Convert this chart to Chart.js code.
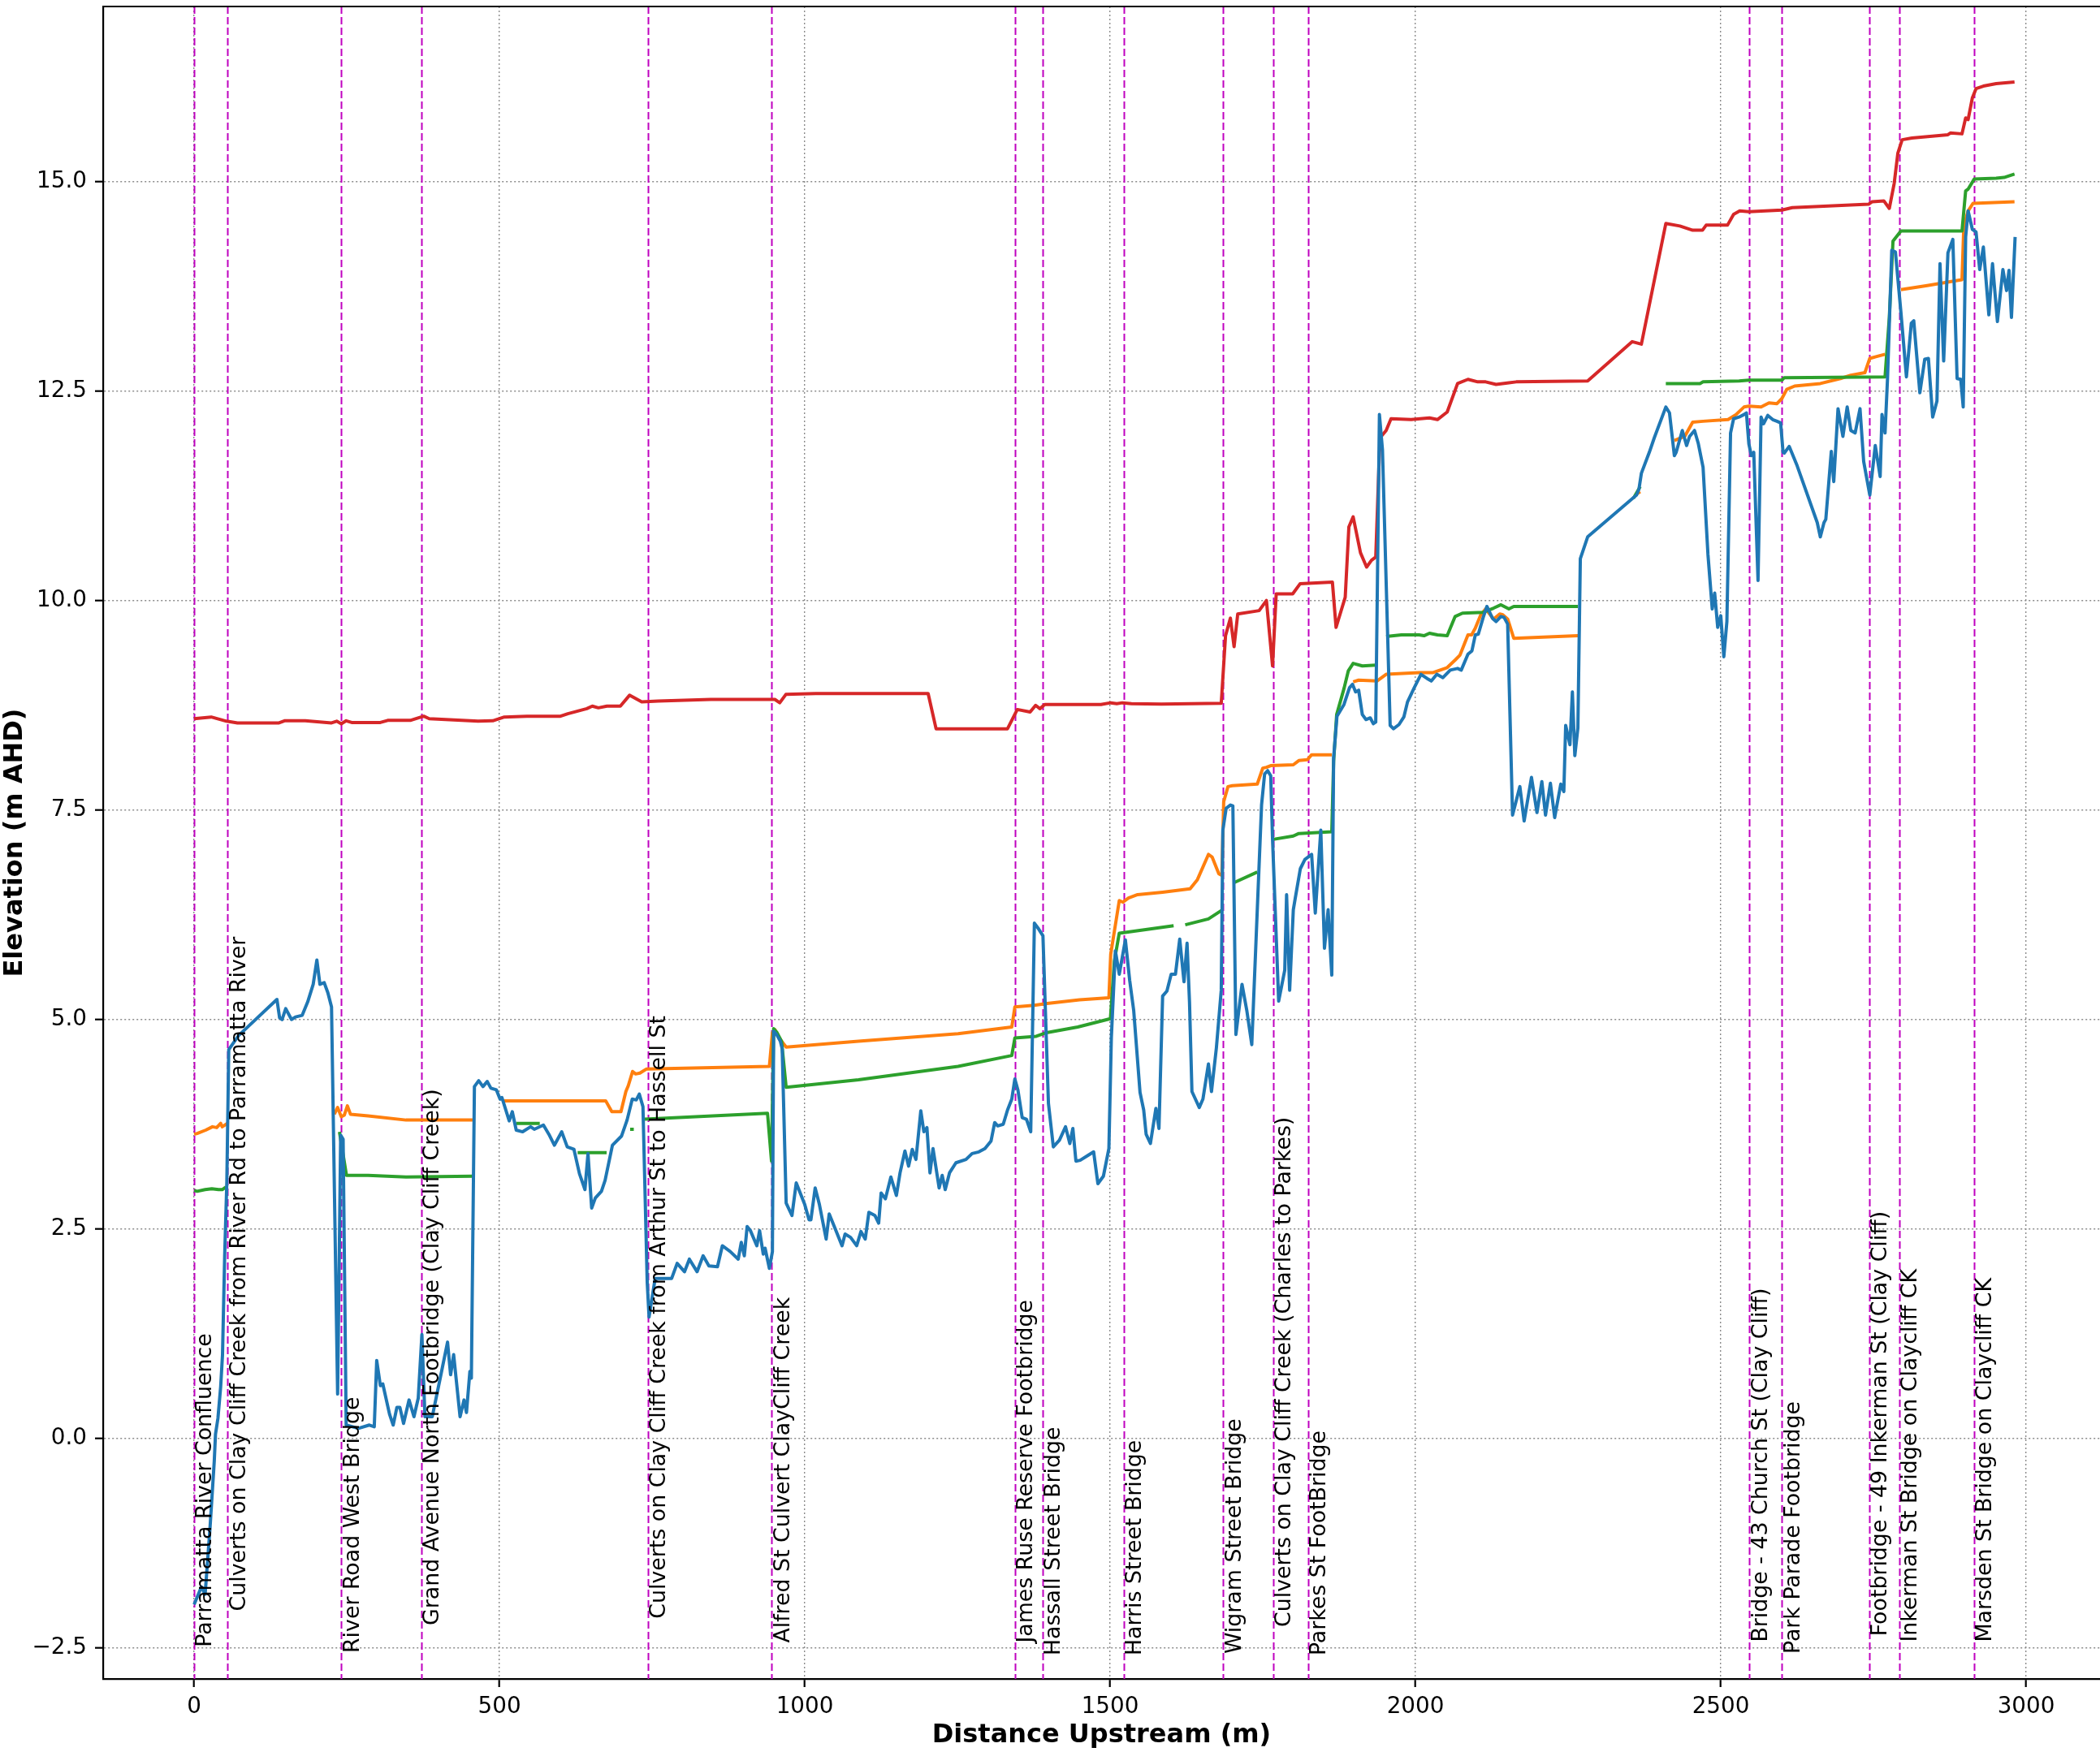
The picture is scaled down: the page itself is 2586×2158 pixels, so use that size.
<!DOCTYPE html>
<html>
<head>
<meta charset="utf-8">
<script src="https://cdn.jsdelivr.net/npm/chart.js@4.4.1/dist/chart.umd.min.js"></script>
<style>
  html, body { margin: 0; padding: 0; background: #ffffff; }
  canvas { display: block; }
</style>
</head>
<body>
<canvas id="profileChart" width="2586" height="2158"></canvas>
<script>
var bedLevel = [
    [0,-1.98],[12,-1.77],[18,-1.86],[26,-1.07],[33,-0.27],[35,0.05],[39,0.24],[43.5,0.62],[46.5,1.0],[50,2.17],[53.6,3.07],[56.7,4.64],[58.5,4.66],[73,4.81],
    [135.6,5.24],[140,5.02],[144,5.0],[150,5.13],[159.5,5.0],[166,5.03],[177,5.05],[186,5.21],[195,5.42],[201,5.71],[206,5.42],[213,5.44],[219,5.32],[225,5.15],
    [235,0.53],[240,3.62],[244,3.57],[249,0.16],[269,0.12],[287,0.16],[295,0.14],[299,0.93],[305,0.63],[309,0.65],[320,0.29],[326,0.16],[332,0.37],[337,0.37],
    [343,0.18],[352,0.46],[360,0.26],[367,0.48],[373,1.24],[378,0.26],[390,0.26],[403,0.72],[415,1.15],[420,0.76],[425,1.0],[435.5,0.26],[442,0.46],[446,0.31],
    [451.6,0.80],[454,0.72],[459,4.20],[466,4.27],[473,4.20],[480,4.26],[486,4.18],[495,4.16],[501,4.05],[504,4.07],[516,3.79],[521,3.90],[527.5,3.68],[538,3.66],
    [551,3.72],[557,3.69],[572,3.74],[581,3.63],[590,3.50],[602,3.66],[611,3.48],[622,3.45],[631,3.16],[640,2.97],[645,3.40],[651,2.75],[657,2.87],[667,2.95],
    [673,3.08],[685,3.50],[700,3.61],[709,3.80],[717.5,4.05],[724,4.04],[729,4.11],[735,3.96],[742,1.86],[745,1.45],[755,1.91],[782,1.91],[791,2.09],[803,1.99],
    [811,2.14],[823.6,1.99],[833.5,2.18],[843,2.06],[857,2.05],[865,2.30],[878,2.23],[891,2.14],[896,2.34],[901,2.18],[905.6,2.53],[911,2.48],[921.5,2.30],[926,2.48],
    [932,2.20],[935,2.27],[942,2.03],[947,2.23],[949,4.86],[954,4.82],[960,4.74],[963,4.65],[969.5,2.81],[979,2.66],[986,3.05],[1000,2.79],[1007,2.61],[1010,2.61],
    [1017,2.99],[1024,2.79],[1035,2.38],[1040,2.68],[1051,2.48],[1061,2.30],[1066,2.44],[1075,2.40],[1085,2.30],[1092,2.47],[1099,2.38],[1105,2.70],[1115,2.66],
    [1121,2.57],[1125,2.93],[1132,2.86],[1141,3.12],[1150,2.90],[1156,3.17],[1164,3.43],[1170,3.25],[1176,3.45],[1182,3.33],[1190,3.91],[1195,3.66],[1200,3.71],
    [1205,3.17],[1210,3.46],[1220,2.99],[1225,3.14],[1230,2.97],[1237,3.17],[1247.5,3.29],[1264,3.33],[1274,3.40],[1285,3.42],[1295,3.46],[1305,3.55],[1311,3.77],
    [1316,3.73],[1325,3.75],[1332,3.92],[1339,4.05],[1344,4.29],[1349,4.16],[1356,3.83],[1363,3.81],[1370,3.66],[1376,6.15],[1383,6.08],[1390,6.0],[1399,4.0],
    [1407,3.48],[1417,3.56],[1427,3.72],[1434,3.52],[1439,3.70],[1444,3.31],[1451,3.32],[1464,3.38],[1473,3.42],[1480,3.04],[1489,3.13],[1498,3.46],[1502,4.78],
    [1508.6,5.82],[1515,5.54],[1525,5.95],[1532,5.47],[1538.6,5.11],[1549,4.13],[1555,3.92],[1559,3.63],[1566,3.52],[1575,3.94],[1580,3.70],[1586,5.28],[1593,5.34],
    [1600,5.54],[1607,5.54],[1614,5.96],[1621,5.45],[1626,5.91],[1630,5.21],[1634,4.14],[1646,3.95],[1652,4.05],[1661,4.47],[1666,4.14],[1674,4.66],[1682,5.35],
    [1684.6,7.26],[1690,7.52],[1697,7.56],[1701,7.55],[1706,4.82],[1716,5.42],[1724,5.1],[1732,4.70],[1741,6.31],[1748,7.56],[1753,7.93],[1758,7.97],[1763,7.91],
    [1766,7.15],[1776,5.22],[1786,5.59],[1789,6.49],[1794,5.35],[1800,6.31],[1803,6.44],[1811.5,6.80],[1819,6.91],[1830,6.97],[1836,6.27],[1845,7.26],[1851,5.85],
    [1857,6.31],[1863,5.53],[1866,8.12],[1871.5,8.62],[1883,8.76],[1892,8.96],[1897,9.0],[1902,8.91],[1907,8.93],[1913,8.64],[1919,8.58],[1926,8.60],[1931,8.53],
    [1935,8.55],[1941,12.22],[1946,11.8],[1958.6,8.51],[1964,8.47],[1973,8.52],[1981,8.61],[1987,8.79],[1998,8.96],[2009,9.12],[2019,9.07],[2026,9.04],[2035,9.12],
    [2045,9.08],[2057,9.17],[2069,9.19],[2075,9.17],[2086,9.36],[2092.5,9.40],[2098,9.59],[2103,9.6],[2111,9.80],[2117,9.93],[2126,9.79],[2132,9.75],[2140,9.81],
    [2145,9.80],[2151,9.72],[2159,7.44],[2171,7.78],[2178,7.37],[2190,7.89],[2199,7.47],[2207,7.84],[2213,7.44],[2221,7.82],[2228,7.41],[2238,7.81],[2243,7.72],
    [2246,8.51],[2253,8.28],[2257,8.91],[2261,8.15],[2266,8.48],[2270,10.50],[2282,10.76],[2362,11.26],[2366,11.33],[2370,11.52],[2383,11.77],[2391,11.94],
    [2410,12.31],[2416,12.24],[2424,11.73],[2427,11.77],[2437,12.03],[2444,11.85],[2449,11.96],[2457,12.03],[2463,11.88],[2471,11.59],[2479,10.55],[2486,9.90],
    [2490,10.09],[2495,9.68],[2500,9.82],[2505,9.33],[2510,9.75],[2516,12.0],[2521,12.17],[2530,12.19],[2538,12.22],[2542,12.24],[2546,11.87],[2550,11.73],
    [2554,11.77],[2561,10.24],[2566,12.19],[2570,12.11],[2577,12.21],[2585,12.16],[2592,12.14],[2598,12.12],[2602,11.77],[2604,11.76],[2612,11.84],[2625,11.61],
    [2658,10.93],[2663,10.76],[2669,10.93],[2672,10.97],[2681,11.78],[2685,11.42],[2692,12.29],[2700,11.96],[2707,12.31],[2713,12.03],[2720,12.0],[2728,12.29],
    [2734,11.66],[2744,11.26],[2753,11.85],[2761,11.48],[2764,12.22],[2769,12.0],[2773,12.64],[2780,14.18],[2786,14.16],[2795,13.44],[2804,12.67],[2812,13.31],
    [2816,13.34],[2826,12.48],[2834,12.88],[2840,12.89],[2847,12.19],[2854,12.38],[2859,14.02],[2865,12.86],[2872,14.15],[2880,14.31],[2887,12.65],[2893,12.64],
    [2897,12.31],[2901,14.34],[2905,14.65],[2912,14.43],[2918,14.40],[2924,13.95],[2930,14.22],[2939,13.41],[2945,14.02],[2953,13.33],[2962,13.95],[2968,13.70],
    [2972,13.94],[2976,13.38],[2982,14.34]
]

var orangeLevel = [
    [0,3.63],[5,3.64],[19,3.68],[30,3.72],[37,3.71],[43.5,3.76],[46,3.72],[54.5,3.76],[55,null],
    [229.6,3.87],[235,3.95],[241,3.84],[246,3.86],[251,3.97],[256,3.87],[285,3.85],[347,3.80],[391,3.80],[456,3.80],[457,null],
    [507,4.03],[613,4.03],[674,4.03],[684,3.90],[699,3.90],[707,4.14],[711,4.21],[718,4.38],[723,4.35],[730,4.36],[741,4.41],[942,4.44],[947,4.84],[951,4.88],
    [955,4.82],[962,4.74],[969.5,4.67],[1088,4.74],[1251,4.83],[1339,4.91],[1344,5.15],[1376,5.17],[1394,5.19],[1450,5.235],[1498,5.26],[1501,5.78],[1515,6.42],
    [1521,6.40],[1530,6.45],[1545,6.49],[1586,6.52],[1631,6.56],[1643,6.67],[1661,6.97],[1667,6.94],[1678,6.74],[1683,6.72],[1686,7.60],[1693,7.78],[1700,7.79],
    [1741,7.81],[1750,8.0],[1756,8.01],[1763,8.03],[1800,8.04],[1809,8.09],[1823,8.10],[1830,8.16],[1863,8.16],[1864,null],
    [1898,9.03],[1907,9.05],[1937,9.04],[1952,9.12],[2006,9.14],[2029,9.14],[2052,9.2],[2065,9.29],[2073,9.35],[2086,9.59],[2092,9.59],[2098,9.67],[2107,9.83],
    [2115,9.90],[2128,9.78],[2138,9.84],[2143,9.83],[2151,9.78],[2161,9.55],[2266,9.58],[2267,null],
    [2362,11.27],[2368,11.3],[2369,null],
    [2424,11.91],[2441,11.96],[2454,12.13],[2471,12.14],[2512,12.16],[2525,12.22],[2538,12.31],[2546,12.32],[2566,12.31],[2579,12.36],[2592,12.35],[2600,12.41],
    [2608,12.52],[2621,12.56],[2663,12.59],[2696,12.65],[2713,12.69],[2736,12.72],[2744,12.89],[2754,12.91],[2769,12.94],[2770,null],
    [2795,13.71],[2838,13.76],[2895,13.83],[2898,14.47],[2905,14.65],[2913,14.74],[2981,14.76]
]

var greenLevel = [
    [0,2.96],[5,2.95],[18,2.97],[29,2.98],[40,2.97],[46,2.97],[52,3.0],[53,null],
    [238,3.66],[249.5,3.14],[285,3.14],[347,3.12],[456,3.13],[457,null],
    [527.5,3.76],[566,3.76],[567,null],
    [628,3.41],[675.5,3.41],[676,null],
    [714,3.69],[720,3.69],[721,null],
    [738,3.81],[939,3.88],[945.5,3.31],[949,4.89],[954,4.85],[962,4.74],[969.5,4.19],[1088,4.28],[1251,4.44],[1339,4.57],[1344,4.78],[1379,4.80],[1394,4.84],
    [1447,4.91],[1500.5,5.01],[1507,5.70],[1515,6.03],[1604,6.12],[1605,null],[1623,6.13],[1661,6.20],[1682,6.30],[1683,null],
    [1702,6.63],[1741,6.76],[1742,null],
    [1767,7.15],[1800,7.19],[1809,7.22],[1863,7.24],[1866,8.08],[1871,8.64],[1883,8.95],[1890,9.16],[1898,9.25],[1913,9.22],[1935,9.23],[1936,null],
    [1952,9.57],[1977,9.59],[2006,9.59],[2014,9.58],[2023,9.61],[2036,9.59],[2052,9.58],[2065,9.81],[2077,9.85],[2111,9.86],[2128,9.91],[2140,9.95],[2153,9.90],
    [2161,9.93],[2266,9.93],[2267,null],
    [2357,11.22],[2368,11.36],[2369,null],
    [2410,12.59],[2466,12.59],[2471,12.61],[2530,12.62],[2546,12.63],[2600,12.63],[2604,12.66],[2769,12.67],[2776,13.38],[2782,14.29],[2795,14.41],[2895,14.41],
    [2901,14.89],[2905,14.91],[2915,15.03],[2951,15.04],[2964,15.05],[2981,15.09]
]

var redLevel = [
    [0,8.59],[28,8.61],[53,8.56],[71,8.54],[139,8.54],[148,8.565],[182,8.565],[225,8.54],[233.5,8.56],[241,8.53],[249,8.565],[258,8.545],[305,8.545],[317,8.57],
    [354,8.57],[376,8.62],[385,8.59],[465,8.56],[489,8.565],[508,8.61],[545,8.62],[600,8.62],[612,8.65],[643,8.71],[652,8.74],[662,8.72],[676,8.74],[698,8.74],
    [713,8.87],[733,8.79],[760,8.80],[846,8.82],[951,8.82],[959,8.78],[969,8.88],[1018,8.89],[1202,8.89],[1215,8.47],[1332,8.47],[1348,8.70],[1369,8.67],
    [1378,8.75],[1385,8.71],[1393,8.76],[1485,8.76],[1501,8.78],[1511,8.77],[1520,8.78],[1535,8.77],[1584,8.765],[1682,8.775],[1689,9.58],[1697,9.79],[1703,9.45],
    [1709,9.84],[1744,9.88],[1756,10.0],[1766,9.22],[1772,10.08],[1799,10.08],[1811,10.2],[1864,10.22],[1870,9.68],[1885,10.04],[1891,10.88],[1898,11.0],
    [1910,10.57],[1920,10.40],[1928,10.48],[1935,10.52],[1941,11.77],[1944,11.96],[1952,12.03],[1960,12.17],[1993,12.16],[2023,12.18],[2036,12.16],[2052,12.25],
    [2069,12.59],[2086,12.64],[2102,12.61],[2115,12.61],[2132,12.58],[2153,12.60],[2165,12.61],[2282,12.62],[2355,13.09],[2370,13.06],[2410,14.50],[2433,14.47],
    [2454,14.42],[2470,14.42],[2476,14.48],[2511,14.48],[2521,14.61],[2531,14.65],[2546,14.64],[2600,14.66],[2617,14.69],[2742,14.73],[2748,14.76],[2767,14.77],
    [2776,14.68],[2784,14.98],[2790,15.34],[2797,15.50],[2813,15.52],[2872,15.56],[2876,15.58],[2895,15.57],[2901,15.76],[2905,15.74],[2912,16.0],[2918,16.11],
    [2930,16.14],[2951,16.17],[2981,16.19]
]

var structureNames = [
    'Parramatta River Confluence',
    'Culverts on Clay Cliff Creek from River Rd to Parramatta River',
    'River Road West Bridge',
    'Grand Avenue North Footbridge (Clay Cliff Creek)',
    'Culverts on Clay Cliff Creek from Arthur St to Hassell St',
    'Alfred St Culvert ClayCliff Creek',
    'James Ruse Reserve Footbridge',
    'Hassall Street Bridge',
    'Harris Street Bridge',
    'Wigram Street Bridge',
    'Culverts on Clay Cliff Creek (Charles to Parkes)',
    'Parkes St FootBridge',
    'Bridge - 43 Church St (Clay Cliff)',
    'Park Parade Footbridge',
    'Footbridge - 49 Inkerman St (Clay Cliff)',
    'Inkerman St Bridge on Claycliff CK',
    'Marsden St Bridge on Claycliff CK'
]
var structureChainage = [0, 55, 241, 372, 743, 946, 1344, 1389, 1522, 1685, 1767, 1824, 2547, 2600, 2743, 2792, 2915]
var labelElevation = [-2.49, -2.06, -2.56, -2.23, -2.15, -2.44, -2.44, -2.59, -2.59, -2.57, -2.25, -2.59, -2.43, -2.57, -2.36, -2.43, -2.43]

var xTickValues = [0, 500, 1000, 1500, 2000, 2500, 3000]
var yTickValues = [-2.5, 0, 2.5, 5, 7.5, 10, 12.5, 15]
var xLimits = [-149, 3121]
var yLimits = [-2.87, 17.09]

var fontFamily = "'DejaVu Sans', 'Liberation Sans', sans-serif"

function toPoints(list) {
    return list.map(p => ({ x: p[0], y: p[1] }))
}

function lineDataset(list, colour) {
    return {
        data: toPoints(list),
        borderColor: colour,
        backgroundColor: colour,
        borderWidth: 4,
        pointRadius: 0,
        pointHoverRadius: 0,
        tension: 0,
        spanGaps: false,
        fill: false,
        borderJoinStyle: 'round',
        borderCapStyle: 'butt'
    }
}

function formatTick(value, decimals) {
    return value.toFixed(decimals).replace('-', '\u2212')
}

// dashed magenta lines for each structure, labels written up the line
var structurePlugin = {
    id: 'structures',
    beforeDatasetsDraw(chart) {
        var ctx = chart.ctx
        var area = chart.chartArea
        var xScale = chart.scales.x
        ctx.save()
        ctx.strokeStyle = '#bf00bf'
        ctx.lineWidth = 2
        ctx.setLineDash([9, 4])
        structureChainage.forEach(chainage => {
            var px = Math.round(xScale.getPixelForValue(chainage)) + 0.5
            ctx.beginPath()
            ctx.moveTo(px, area.top)
            ctx.lineTo(px, area.bottom)
            ctx.stroke()
        })
        ctx.restore()
    },
    afterDatasetsDraw(chart) {
        var ctx = chart.ctx
        var xScale = chart.scales.x
        var yScale = chart.scales.y
        ctx.save()
        ctx.fillStyle = '#000000'
        ctx.font = '26.8px ' + fontFamily
        ctx.textAlign = 'left'
        ctx.textBaseline = 'top'
        structureNames.forEach((name, i) => {
            var px = xScale.getPixelForValue(structureChainage[i])
            var py = yScale.getPixelForValue(labelElevation[i])
            ctx.save()
            ctx.translate(px + 1, py)
            ctx.rotate(-Math.PI / 2)
            ctx.fillText(name, 0, 0)
            ctx.restore()
        })
        ctx.restore()
    },
    afterDraw(chart) {
        var ctx = chart.ctx
        var area = chart.chartArea
        ctx.save()
        ctx.strokeStyle = '#000000'
        ctx.lineWidth = 2.2
        ctx.beginPath()
        ctx.moveTo(area.left, area.top)
        ctx.lineTo(area.right, area.top)
        ctx.stroke()
        ctx.restore()
    }
}

function fixPadding(scale) {
    scale.paddingTop = 0
    scale.paddingBottom = 0
    scale.paddingLeft = 0
    scale.paddingRight = 0
}

var gridStyle = {
    color: '#8c8c8c',
    lineWidth: 1.4,
    drawTicks: true,
    tickLength: 10,
    tickColor: '#000000',
    tickWidth: 2.2,
    tickBorderDash: []
}

var borderStyle = { display: true, color: '#000000', width: 2.2, dash: [2, 3] }

new Chart(document.getElementById('profileChart'), {
    type: 'line',
    data: {
        datasets: [
            lineDataset(bedLevel, '#1f77b4'),
            lineDataset(greenLevel, '#2ca02c'),
            lineDataset(orangeLevel, '#ff7f0e'),
            lineDataset(redLevel, '#d62728')
        ]
    },
    options: {
        responsive: false,
        devicePixelRatio: 1,
        animation: false,
        events: [],
        layout: { padding: { top: 8, right: 0, bottom: 0, left: 0 } },
        plugins: {
            legend: { display: false },
            tooltip: { enabled: false }
        },
        scales: {
            x: {
                type: 'linear',
                min: xLimits[0],
                max: xLimits[1],
                grid: gridStyle,
                border: borderStyle,
                afterBuildTicks(scale) {
                    scale.ticks = xTickValues.map(v => ({ value: v }))
                },
                ticks: {
                    autoSkip: false,
                    maxRotation: 0,
                    padding: 8,
                    color: '#000000',
                    font: { family: fontFamily, size: 27.8 },
                    callback: value => formatTick(value, 0)
                },
                title: {
                    display: true,
                    text: 'Distance Upstream (m)',
                    color: '#000000',
                    font: { family: fontFamily, size: 32, weight: 'bold', lineHeight: 1.0 },
                    padding: { top: 0, bottom: 4 }
                },
                afterFit(scale) {
                    scale.height = 90
                    fixPadding(scale)
                }
            },
            y: {
                type: 'linear',
                min: yLimits[0],
                max: yLimits[1],
                grid: gridStyle,
                border: borderStyle,
                afterBuildTicks(scale) {
                    scale.ticks = yTickValues.map(v => ({ value: v }))
                },
                ticks: {
                    padding: 10,
                    color: '#000000',
                    font: { family: fontFamily, size: 27.8 },
                    callback: value => formatTick(value, 1)
                },
                title: {
                    display: true,
                    text: 'Elevation (m AHD)',
                    color: '#000000',
                    font: { family: fontFamily, size: 32, weight: 'bold', lineHeight: 1.0 },
                    padding: { top: 3, bottom: 0 }
                },
                afterFit(scale) {
                    scale.width = 127
                    fixPadding(scale)
                }
            }
        }
    },
    plugins: [structurePlugin]
})
</script>
</body>
</html>
